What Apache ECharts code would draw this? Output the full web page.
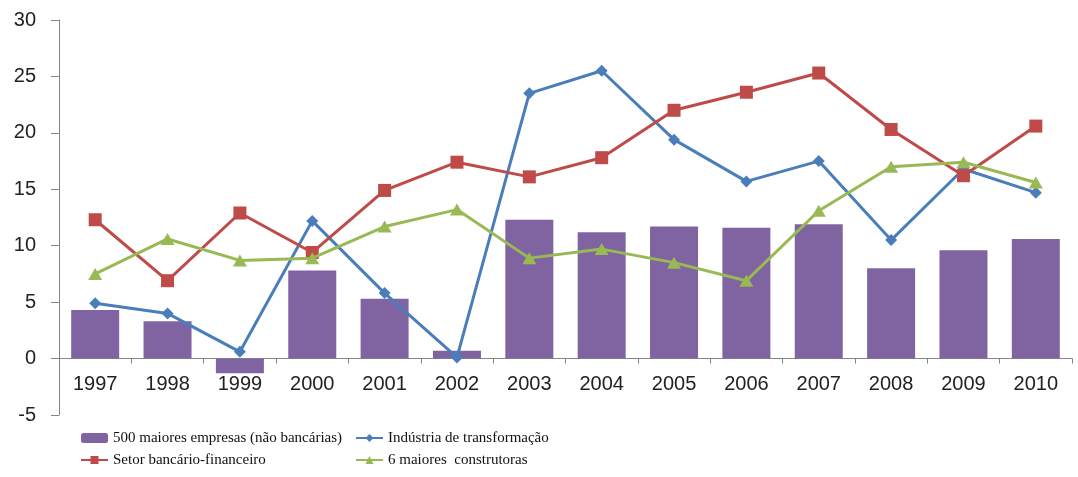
<!DOCTYPE html>
<html>
<head>
<meta charset="utf-8">
<script src="https://cdn.jsdelivr.net/npm/echarts@6/dist/echarts.min.js"></script>
<style>
html,body{margin:0;padding:0;background:#fff;}
#chart{width:1078px;height:477px;}
</style>
</head>
<body>
<div id="chart"></div>
<script>
const categories = ['1997','1998','1999','2000','2001','2002','2003','2004','2005','2006','2007','2008','2009','2010'];
const empresas500 = [4.3, 3.3, -1.3, 7.8, 5.3, 0.7, 12.3, 11.2, 11.7, 11.6, 11.9, 8.0, 9.6, 10.6];
const industria = [4.9, 4.0, 0.6, 12.2, 5.8, 0.1, 23.5, 25.5, 19.4, 15.7, 17.5, 10.5, 16.8, 14.7];
const bancario = [12.3, 6.9, 12.9, 9.4, 14.9, 17.4, 16.1, 17.8, 22.0, 23.6, 25.3, 20.3, 16.2, 20.6];
const construtoras = [7.5, 10.6, 8.7, 8.9, 11.7, 13.2, 8.9, 9.7, 8.5, 6.9, 13.1, 17.0, 17.4, 15.6];
const seriesNames = ['500 maiores empresas (não bancárias)', 'Indústria de transformação', 'Setor bancário-financeiro', '6 maiores  construtoras'];
const yTicks = {min:-5, max:30, interval:5};

const chart = echarts.init(document.getElementById('chart'), null, {renderer:'canvas'});
const axisColor = '#868686';
const labelFont = {fontFamily:'Liberation Sans', fontSize:20, color:'#222'};
const legendText = {fontFamily:'Liberation Serif', fontSize:15, color:'#111', lineHeight:16};

const gridTop = 20, gridBottom = 62, H = 477;
const plotH = H - gridTop - gridBottom;
const zeroOffset = -plotH * (0 - yTicks.min) / (yTicks.max - yTicks.min);

chart.setOption({
  animation:false,
  backgroundColor:'#fff',
  grid:{left:59, right:6, top:gridTop, bottom:gridBottom},
  legend:[
    {orient:'vertical', left:80, top:430, padding:0, itemWidth:27, itemHeight:10, itemGap:6,
     data:[seriesNames[0], seriesNames[2]], textStyle:legendText},
    {orient:'vertical', left:355, top:430, padding:0, itemWidth:27, itemHeight:10, itemGap:6,
     data:[seriesNames[1], seriesNames[3]], textStyle:legendText}
  ],
  xAxis:{
    type:'category', data:categories, position:'bottom', offset:zeroOffset,
    axisLine:{onZero:false, lineStyle:{color:axisColor, width:1}},
    axisTick:{show:true, length:5, lineStyle:{color:axisColor}},
    axisLabel:Object.assign({margin:16}, labelFont),
    splitLine:{show:false}
  },
  yAxis:{
    type:'value', min:yTicks.min, max:yTicks.max, interval:yTicks.interval,
    axisLine:{show:true, lineStyle:{color:axisColor, width:1}},
    axisTick:{show:true, inside:false, length:8, lineStyle:{color:axisColor}},
    axisLabel:Object.assign({margin:23}, labelFont),
    splitLine:{show:false}
  },
  series:[
    {name:seriesNames[0], type:'bar', data:empresas500, barWidth:48,
     itemStyle:{color:'#8064A2'}},
    {name:seriesNames[1], type:'line', data:industria, symbol:'diamond', symbolSize:12,
     lineStyle:{color:'#4A7EBB', width:3}, itemStyle:{color:'#4A7EBB'}, z:3},
    {name:seriesNames[2], type:'line', data:bancario, symbol:'rect', symbolSize:13,
     lineStyle:{color:'#BE4B48', width:3}, itemStyle:{color:'#BE4B48'}, z:4},
    {name:seriesNames[3], type:'line', data:construtoras, symbol:'triangle', symbolSize:[14,12],
     lineStyle:{color:'#98B954', width:3}, itemStyle:{color:'#98B954'}, z:5}
  ]
});
</script>
</body>
</html>
